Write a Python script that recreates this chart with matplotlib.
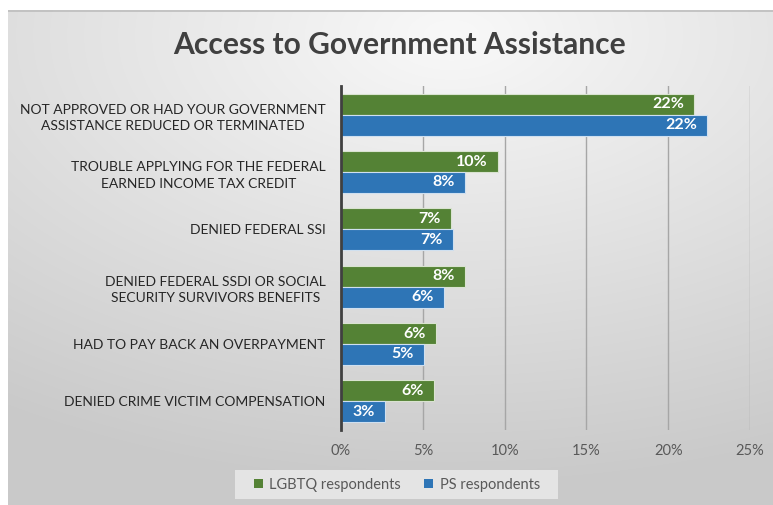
import numpy as np
import matplotlib
matplotlib.use("Agg")
import matplotlib.pyplot as plt
from matplotlib.patches import Patch, Rectangle

plt.rcParams['font.family'] = ['Lato', 'DejaVu Sans']

categories = [
    "NOT APPROVED OR HAD YOUR GOVERNMENT\nASSISTANCE REDUCED OR TERMINATED",
    "TROUBLE APPLYING FOR THE FEDERAL\nEARNED INCOME TAX CREDIT",
    "DENIED FEDERAL SSI",
    "DENIED FEDERAL SSDI OR SOCIAL\nSECURITY SURVIVORS BENEFITS",
    "HAD TO PAY BACK AN OVERPAYMENT",
    "DENIED CRIME VICTIM COMPENSATION",
]
lgbtq = [0.216, 0.096, 0.067, 0.076, 0.058, 0.057]
ps = [0.224, 0.076, 0.0685, 0.063, 0.051, 0.027]
series_names = ["LGBTQ respondents", "PS respondents"]
xticks = [0, 0.05, 0.10, 0.15, 0.20, 0.25]

GREEN = "#548235"
BLUE = "#2E75B6"
W, H = 773, 505

fig = plt.figure(figsize=(W / 100, H / 100), dpi=100)
fig.patch.set_facecolor("white")

# chart panel with a soft radial gradient
px0, py0, px1, py1 = 8, 10, 773, 505
bg = fig.add_axes([px0 / W, 1 - py1 / H, (px1 - px0) / W, (py1 - py0) / H], zorder=0)
gx, gy = np.meshgrid(np.linspace(0, 1, 400), np.linspace(0, 1, 300))
cx, cy = 0.58, 0.05
r = np.sqrt(((gx - cx) * 1.0) ** 2 + ((gy - cy) * 1.15) ** 2)
r = np.clip(r / 1.05, 0, 1)
light, dark = 0.975, 0.79
vals = light - (light - dark) * r
bg.imshow(np.dstack([vals, vals, vals]), aspect="auto", extent=[0, 1, 1, 0],
          interpolation="bilinear")
bg.set_xlim(0, 1)
bg.set_ylim(1, 0)
bg.axis("off")
bg.plot([0, 1], [0.002, 0.002], color="#bdbdbd", lw=1.2)

# plot area
ax_l, ax_r, ax_t, ax_b = 341, 750, 86, 430
ax = fig.add_axes([ax_l / W, 1 - ax_b / H, (ax_r - ax_l) / W, (ax_b - ax_t) / H], zorder=1)
ax.patch.set_alpha(0)

y = np.arange(len(categories))
h = 0.366
ax.barh(y - h / 2, lgbtq, height=h, color=GREEN, edgecolor="#d9e3d0", linewidth=0.8, zorder=3)
ax.barh(y + h / 2, ps, height=h, color=BLUE, edgecolor="#cfe0f0", linewidth=0.8, zorder=3)

for yi, v in zip(y - h / 2, lgbtq):
    ax.annotate(f"{v * 100:.0f}%", (v, yi), xytext=(-7.5, 0), textcoords="offset points",
                ha="right", va="center", color="white", fontsize=11.5, fontweight="bold", zorder=4)
for yi, v in zip(y + h / 2, ps):
    ax.annotate(f"{v * 100:.0f}%", (v, yi), xytext=(-7.5, 0), textcoords="offset points",
                ha="right", va="center", color="white", fontsize=11.5, fontweight="bold", zorder=4)

ax.set_xlim(0, 0.25)
ax.set_ylim(len(categories) - 0.5, -0.5)
ax.set_xticks(xticks)
ax.set_xticklabels([f"{t * 100:.0f}%" for t in xticks], color="#595959", fontsize=10.5)
ax.set_yticks(y)
ax.set_yticklabels(categories, color="#262626", fontsize=10, ha="right",
                   multialignment="center", linespacing=1.45)
ax.tick_params(axis="both", length=0)
ax.tick_params(axis="y", pad=11)
ax.tick_params(axis="x", pad=10)
ax.grid(axis="x", color="#a6a6a6", linewidth=1.0, zorder=1)
for s in ["top", "right", "bottom"]:
    ax.spines[s].set_visible(False)
ax.spines["left"].set_color("#404040")
ax.spines["left"].set_linewidth(2.0)
ax.spines["left"].set_zorder(5)

fig.text(400 / W, 1 - 45 / H, "Access to Government Assistance", ha="center", va="center",
         fontsize=21.6, fontweight="bold", color="#404040")

# legend box
lx0, lx1, ly0, ly1 = 235, 558, 470, 499
fig.patches.append(Rectangle((lx0 / W, 1 - ly1 / H), (lx1 - lx0) / W, (ly1 - ly0) / H,
                             transform=fig.transFigure, facecolor="#e4e4e4",
                             edgecolor="none", zorder=1))
handles = [Patch(facecolor=GREEN, edgecolor="none"), Patch(facecolor=BLUE, edgecolor="none")]
leg = fig.legend(handles, series_names, loc="center", bbox_to_anchor=(397 / W, 1 - 484.5 / H),
                 ncol=2, frameon=False, fontsize=10.5, handlelength=0.6, handleheight=0.6,
                 handletextpad=0.45, columnspacing=1.6, borderpad=0.5)
leg.set_zorder(2)
for t in leg.get_texts():
    t.set_color("#595959")

fig.savefig("out.png", dpi=100)
